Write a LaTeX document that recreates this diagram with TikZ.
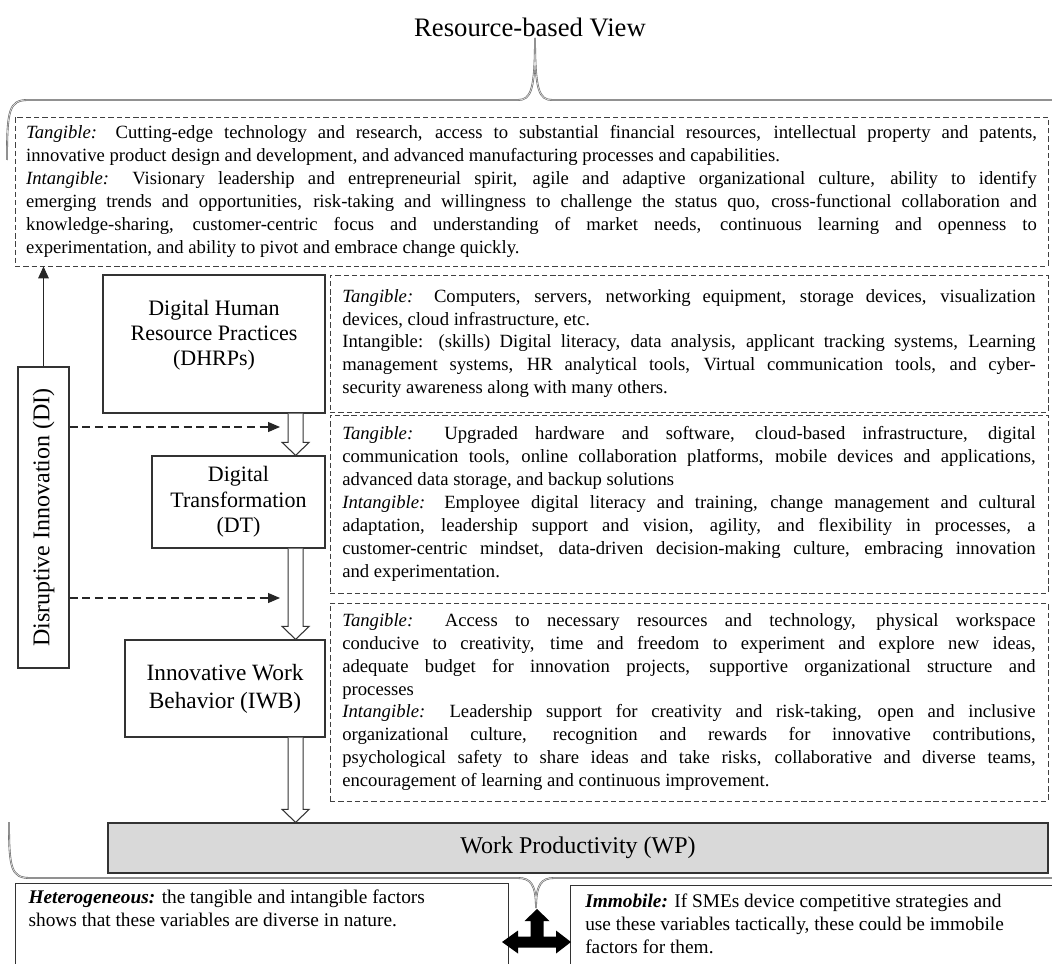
\documentclass[tikz,border=0pt]{standalone}
\usepackage{graphicx}
\usepackage{fontspec}
\setmainfont{Liberation Serif}
\usetikzlibrary{arrows.meta,calc}

\newcommand\flowarrow[2]{%
  \draw[hollow] let \p1=($(#1.south east)+(-22.5pt,0pt)$), \p2=(#2.north) in
    (\x1-5.6pt,\y1) -- (\x1-5.6pt,\y2+9.75pt) -- (\x1-10.1pt,\y2+9.75pt) -- (\x1,\y2)
    -- (\x1+10.1pt,\y2+9.75pt) -- (\x1+5.6pt,\y2+9.75pt) -- (\x1+5.6pt,\y1);}

\begin{document}
\begin{tikzpicture}[
  x=0.75pt, y=-0.75pt,
  every node/.style={inner sep=0pt},
  txt/.style={font={\fontsize{14}{17.2}\selectfont}},
  factor/.style={draw=black!80, line width=0.9pt, align=center, font={\fontsize{16.5}{19}\selectfont}},
  resbox/.style={draw=black!75, line width=0.7pt, dash pattern=on 4pt off 2.2pt,
    inner xsep=9pt, text width=520pt, minimum width=538.5pt, align=justify, txt},
  sidebox/.style={draw=black!80, line width=0.9pt, anchor=north west,
    font={\fontsize{14.5}{17.2}\selectfont}},
  curly/.style={draw=black!60, double=black!12, double distance=0.5pt, line width=0.45pt},
  hollow/.style={draw=black!80, line width=0.8pt, fill=white},
  dasharrow/.style={draw=black!85, line width=0.8pt, dash pattern=on 6pt off 3.5pt,
    -{Triangle[length=9pt,width=7.5pt]}},
  solidarrow/.style={draw=black!85, line width=0.8pt, -{Triangle[length=9pt,width=8pt]}}
]
\useasboundingbox (0,0) rectangle (1052,963);
\clip (0,0) rectangle (1052,963);
\fill[white] (0,0) rectangle (1052,963);

\node[font={\fontsize{20}{23}\selectfont}] (rbvtitle) at (530,27) {Resource-based View};
\draw[curly] (7,160) .. controls (7,110) and (9,100) .. (28,100) -- (518,100)
  .. controls (531,100) and (535,90) .. (535,38) .. controls (535,90) and (539,100) .. (552,100) -- (1060,100);

\node[resbox, text width=758pt, inner xsep=8pt, minimum width=774.75pt, minimum height=111.75pt] (rbv) at (531.5,191.5) {%
\textit{Tangible:} Cutting-edge technology and research, access to substantial financial resources, intellectual property and patents,\linebreak
innovative product design and development, and advanced manufacturing processes and capabilities.\\
\textit{Intangible:} Visionary leadership and entrepreneurial spirit, agile and adaptive organizational culture, ability to identify\linebreak
emerging trends and opportunities, risk-taking and willingness to challenge the status quo, cross-functional collaboration and\linebreak
knowledge-sharing, customer-centric focus and understanding of market needs, continuous learning and openness to\linebreak
experimentation, and ability to pivot and embrace change quickly.};

\node[factor, minimum width=166.5pt, minimum height=103.5pt] (dhrp) at (214,344) {\parbox[c][66pt][t]{160pt}{\centering
Digital Human\\Resource Practices\\(DHRPs)}};
\node[factor, minimum width=129.75pt, minimum height=69pt] (dt) at (238.5,502) {Digital\\Transformation\\(DT)};
\node[factor, minimum width=150pt, minimum height=72.75pt, font={\fontsize{17.5}{21}\selectfont}] (iwb) at (225,688.5) {Innovative Work\\Behavior (IWB)};
\node[factor, minimum width=38.25pt, minimum height=225.75pt, font={\fontsize{18}{21}\selectfont}] (di) at (43.5,517.5) {\rotatebox{90}{Disruptive Innovation (DI)}};
\node[factor, fill=black!15, minimum width=705pt, minimum height=37.5pt, font={\fontsize{18}{21}\selectfont}] (wp) at (578,848) {Work Productivity (WP)};

\node[resbox, minimum height=102.75pt] (dhrpx) at (689,343.5) {%
\textit{Tangible:} Computers, servers, networking equipment, storage devices, visualization\linebreak
devices, cloud infrastructure, etc.\\
Intangible: (skills) Digital literacy, data analysis, applicant tracking systems, Learning\linebreak
management systems, HR analytical tools, Virtual communication tools, and cyber-\linebreak
security awareness along with many others.};
\node[resbox, minimum height=133.5pt] (dtx) at (689,504) {%
\textit{Tangible:} Upgraded hardware and software, cloud-based infrastructure, digital\linebreak
communication tools, online collaboration platforms, mobile devices and applications,\linebreak
advanced data storage, and backup solutions\\
\textit{Intangible:} Employee digital literacy and training, change management and cultural\linebreak
adaptation, leadership support and vision, agility, and flexibility in processes, a\linebreak
customer-centric mindset, data-driven decision-making culture, embracing innovation\linebreak
and experimentation.};
\node[resbox, minimum height=148.5pt] (iwbx) at (689,702) {%
\textit{Tangible:} Access to necessary resources and technology, physical workspace\linebreak
conducive to creativity, time and freedom to experiment and explore new ideas,\linebreak
adequate budget for innovation projects, supportive organizational structure and\linebreak
processes\\
\textit{Intangible:} Leadership support for creativity and risk-taking, open and inclusive\linebreak
organizational culture, recognition and rewards for innovative contributions,\linebreak
psychological safety to share ideas and take risks, collaborative and diverse teams,\linebreak
encouragement of learning and continuous improvement.};

\flowarrow{dhrp}{dt}
\flowarrow{dt}{iwb}
\flowarrow{iwb}{wp}

\coordinate (t1) at (280,427);
\coordinate (t2) at (280,598);
\draw[dasharrow] (di.east |- t1) -- (t1);
\draw[dasharrow] (di.east |- t2) -- (t2);
\draw[solidarrow] (di.north) -- (di.north |- rbv.south);

\draw[curly] (9,822) .. controls (9,868) and (11,878) .. (30,878) -- (518,878)
  .. controls (531,878) and (536,885) .. (536,908) .. controls (536,885) and (541,878) .. (554,878) -- (1060,878);

\node[sidebox, inner xsep=9.75pt, inner ysep=4.5pt] (het) at (15,883) {\parbox[t][80pt][t]{350pt}{\raggedright
\textbf{\textit{Heterogeneous:}} the tangible and intangible factors\\
shows that these variables are diverse in nature.}};
\node[sidebox, inner xsep=11pt, inner ysep=6pt] (imm) at (570,885) {\parbox[t][80pt][t]{350pt}{\raggedright
\textbf{\textit{Immobile:}} If SMEs device competitive strategies and\\
use these variables tactically, these could be immobile\\
factors for them.}};

\fill[black] (537,909) -- (549.5,921) -- (543.5,921) -- (543.5,936.5) -- (556,936.5) -- (556,930.5)
  -- (571,942) -- (556,953.5) -- (556,947.5) -- (518,947.5) -- (518,953.5) -- (502,942)
  -- (518,930.5) -- (518,936.5) -- (530.5,936.5) -- (530.5,921) -- (524.5,921) -- cycle;
\end{tikzpicture}
\end{document}
